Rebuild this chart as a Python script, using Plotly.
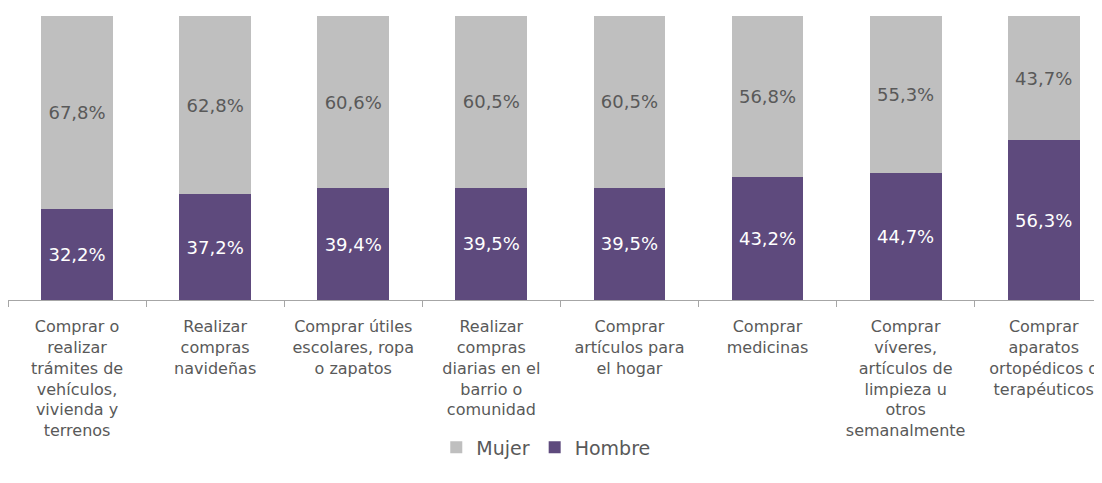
import plotly.graph_objects as go

categories = [
    "Comprar o<br>realizar<br>trámites de<br>vehículos,<br>vivienda y<br>terrenos",
    "Realizar<br>compras<br>navideñas",
    "Comprar útiles<br>escolares, ropa<br>o zapatos",
    "Realizar<br>compras<br>diarias en el<br>barrio o<br>comunidad",
    "Comprar<br>artículos para<br>el hogar",
    "Comprar<br>medicinas",
    "Comprar<br>víveres,<br>artículos de<br>limpieza u<br>otros<br>semanalmente",
    "Comprar<br>aparatos<br>ortopédicos o<br>terapéuticos",
]
hombre = [32.2, 37.2, 39.4, 39.5, 39.5, 43.2, 44.7, 56.3]
mujer = [67.8, 62.8, 60.6, 60.5, 60.5, 56.8, 55.3, 43.7]

def fmt(v):
    return f"{v:.1f}%".replace(".", ",")

FONT = "DejaVu Sans"
fig = go.Figure()
fig.add_trace(go.Bar(
    x=categories, y=hombre, name="Hombre",
    marker=dict(color="#5E4A7D", line=dict(width=0)),
    text=[fmt(v) for v in hombre], textposition="inside", insidetextanchor="middle",
    textfont=dict(color="white", size=18, family=FONT), textangle=0,
))
fig.add_trace(go.Bar(
    x=categories, y=mujer, name="Mujer",
    marker=dict(color="#BFBFBF", line=dict(width=0)),
    text=[fmt(v) for v in mujer], textposition="inside", insidetextanchor="middle",
    textfont=dict(color="#595959", size=18, family=FONT), textangle=0,
))
fig.update_layout(
    barmode="stack", bargap=0.48,
    width=1102, height=483,
    margin=dict(l=0, r=0, t=8, b=191, autoexpand=False),
    paper_bgcolor="white", plot_bgcolor="white",
    font=dict(family=FONT, color="#595959", size=16),
    uniformtext=dict(minsize=10, mode="show"),
    xaxis=dict(
        range=[-0.5, 7.48], showline=True, linecolor="#A6A6A6", linewidth=1,
        ticks="outside", tickson="boundaries", ticklen=6, tickcolor="#A6A6A6",
        tickfont=dict(size=16, color="#595959"), tickangle=0, showgrid=False,
        automargin=False, ticklabelstandoff=12,
    ),
    yaxis=dict(range=[0, 100], visible=False, automargin=False),
    legend=dict(orientation="h", x=0.488, xanchor="center", y=-0.452, yanchor="top",
                traceorder="reversed", font=dict(size=19, color="#595959")),
    showlegend=True,
)
fig.write_html("out.html")
